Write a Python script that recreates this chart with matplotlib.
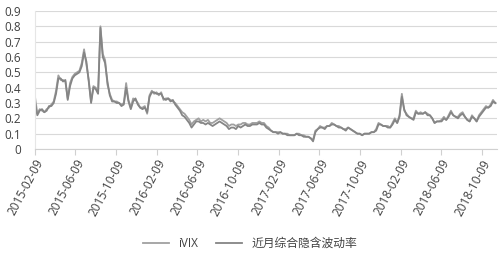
import numpy as np
import pandas as pd
import matplotlib
matplotlib.use('Agg')
import matplotlib.pyplot as plt

plt.rcParams['font.family'] = ['Open Sans', 'Noto Sans CJK SC', 'DejaVu Sans']

# 每週取樣
start_date = '2015-02-09'
ivix = [
    0.34, 0.23, 0.26, 0.25, 0.24, 0.26, 0.27, 0.29, 0.31, 0.38,
    0.48, 0.45, 0.45, 0.44, 0.33, 0.43, 0.47, 0.49, 0.50, 0.51,
    0.56, 0.65, 0.55, 0.45, 0.31, 0.41, 0.40, 0.37, 0.80, 0.62,
    0.58, 0.42, 0.36, 0.32, 0.31, 0.31, 0.30, 0.29, 0.30, 0.43,
    0.32, 0.27, 0.33, 0.32, 0.30, 0.27, 0.27, 0.28, 0.23, 0.35,
    0.38, 0.36, 0.37, 0.35, 0.37, 0.32, 0.33, 0.33, 0.32, 0.31,
    0.30, 0.28, 0.26, 0.24, 0.23, 0.21, 0.19, 0.16, 0.18, 0.19,
    0.20, 0.18, 0.19, 0.18, 0.19, 0.17, 0.17, 0.18, 0.19, 0.20,
    0.19, 0.18, 0.17, 0.15, 0.16, 0.16, 0.15, 0.16, 0.16, 0.17,
    0.17, 0.16, 0.16, 0.17, 0.17, 0.17, 0.18, 0.17, 0.17, 0.15,
    0.14, 0.12, 0.11, 0.11, 0.11, 0.11, 0.10, 0.10, 0.10, 0.09,
    0.09, 0.09, 0.10, 0.10, 0.09, 0.09, 0.08, 0.08, 0.07, 0.06,
    0.12, 0.13, 0.15, 0.14, 0.14, 0.15, 0.15, 0.17, 0.16, 0.15,
    0.15, 0.14, 0.13, 0.13, 0.14, 0.13, 0.12, 0.11, 0.10, 0.10,
    0.09, 0.10, 0.10, 0.10, 0.11, 0.11, 0.13, 0.17, 0.16, 0.15,
    0.15, 0.15, 0.14, 0.17, 0.20, 0.17, 0.22, 0.36, 0.25, 0.23,
    0.21, 0.20, 0.20, 0.25, 0.23, 0.24, 0.23, 0.24, 0.23, 0.22,
    0.20, 0.17, 0.18, 0.18, 0.19, 0.21, 0.19, 0.22, 0.25, 0.22,
    0.21, 0.21, 0.23, 0.24, 0.21, 0.19, 0.18, 0.22, 0.20, 0.18,
    0.22, 0.24, 0.26, 0.28, 0.27, 0.29, 0.32, 0.30,
]
near_month = [
    0.30, 0.22, 0.25, 0.26, 0.24, 0.25, 0.28, 0.28, 0.30, 0.36,
    0.46, 0.46, 0.44, 0.45, 0.32, 0.41, 0.46, 0.48, 0.49, 0.50,
    0.54, 0.63, 0.57, 0.44, 0.30, 0.40, 0.39, 0.36, 0.79, 0.60,
    0.56, 0.44, 0.35, 0.31, 0.31, 0.30, 0.30, 0.28, 0.29, 0.40,
    0.31, 0.26, 0.31, 0.33, 0.29, 0.27, 0.26, 0.27, 0.24, 0.34,
    0.37, 0.37, 0.36, 0.36, 0.36, 0.33, 0.32, 0.33, 0.31, 0.32,
    0.29, 0.27, 0.25, 0.22, 0.21, 0.19, 0.17, 0.14, 0.16, 0.18,
    0.18, 0.17, 0.17, 0.16, 0.17, 0.16, 0.15, 0.16, 0.17, 0.18,
    0.17, 0.16, 0.15, 0.13, 0.14, 0.14, 0.13, 0.15, 0.14, 0.15,
    0.16, 0.15, 0.15, 0.16, 0.16, 0.16, 0.17, 0.16, 0.16, 0.14,
    0.13, 0.12, 0.11, 0.11, 0.10, 0.11, 0.10, 0.10, 0.09, 0.09,
    0.09, 0.09, 0.10, 0.09, 0.09, 0.08, 0.08, 0.08, 0.07, 0.05,
    0.11, 0.13, 0.14, 0.14, 0.13, 0.15, 0.15, 0.16, 0.16, 0.15,
    0.14, 0.14, 0.13, 0.12, 0.14, 0.13, 0.12, 0.11, 0.10, 0.10,
    0.09, 0.10, 0.10, 0.10, 0.11, 0.11, 0.12, 0.16, 0.16, 0.15,
    0.15, 0.14, 0.14, 0.16, 0.19, 0.17, 0.21, 0.34, 0.26, 0.22,
    0.21, 0.20, 0.19, 0.24, 0.23, 0.23, 0.23, 0.24, 0.22, 0.22,
    0.20, 0.17, 0.18, 0.18, 0.18, 0.20, 0.19, 0.21, 0.24, 0.22,
    0.21, 0.20, 0.22, 0.23, 0.21, 0.19, 0.18, 0.21, 0.20, 0.18,
    0.21, 0.23, 0.25, 0.27, 0.27, 0.28, 0.31, 0.30,
]
tick_labels = ['2015-02-09', '2015-06-09', '2015-10-09', '2016-02-09',
               '2016-06-09', '2016-10-09', '2017-02-09', '2017-06-09',
               '2017-10-09', '2018-02-09', '2018-06-09', '2018-10-09']
y_ticks = [0, 0.1, 0.2, 0.3, 0.4, 0.5, 0.6, 0.7, 0.8, 0.9]

dates = pd.date_range(start_date, periods=len(ivix), freq='7D')

fig = plt.figure(figsize=(5.0, 2.61), dpi=100)
ax = fig.add_axes([0.07, 0.429, 0.924, 0.529])

ax.plot(dates, ivix, color='#a0a0a0', lw=1.3, label='iVIX')
ax.plot(dates, near_month, color='#858585', lw=1.3, label='近月综合隐含波动率')

ax.set_ylim(0, 0.9)
ax.set_yticks(y_ticks)
ax.set_yticklabels([f'{v:g}' for v in y_ticks])
ax.set_xlim(pd.Timestamp('2015-02-09'), pd.Timestamp('2018-11-24'))
ax.set_xticks(pd.to_datetime(tick_labels))
ax.set_xticklabels(tick_labels, rotation=62, ha='right', rotation_mode='anchor',
                   fontsize=8.5, color='#404040')

ax.grid(axis='y', color='#d9d9d9', lw=0.8)
ax.set_axisbelow(True)
for side in ['top', 'right']:
    ax.spines[side].set_visible(False)
ax.spines['left'].set_color('#e6e6e6')
ax.spines['bottom'].set_color('#d0d0d0')
ax.tick_params(axis='y', length=0, pad=10, labelsize=8.5, labelcolor='#404040')
ax.tick_params(axis='x', length=4, color='#d0d0d0', pad=2)

fig.legend(loc='center', bbox_to_anchor=(0.5, 0.068), ncol=2, frameon=False,
           fontsize=8.5, handlelength=2.2, columnspacing=1.5, labelcolor='#404040')

fig.savefig('out.png', dpi=100)
